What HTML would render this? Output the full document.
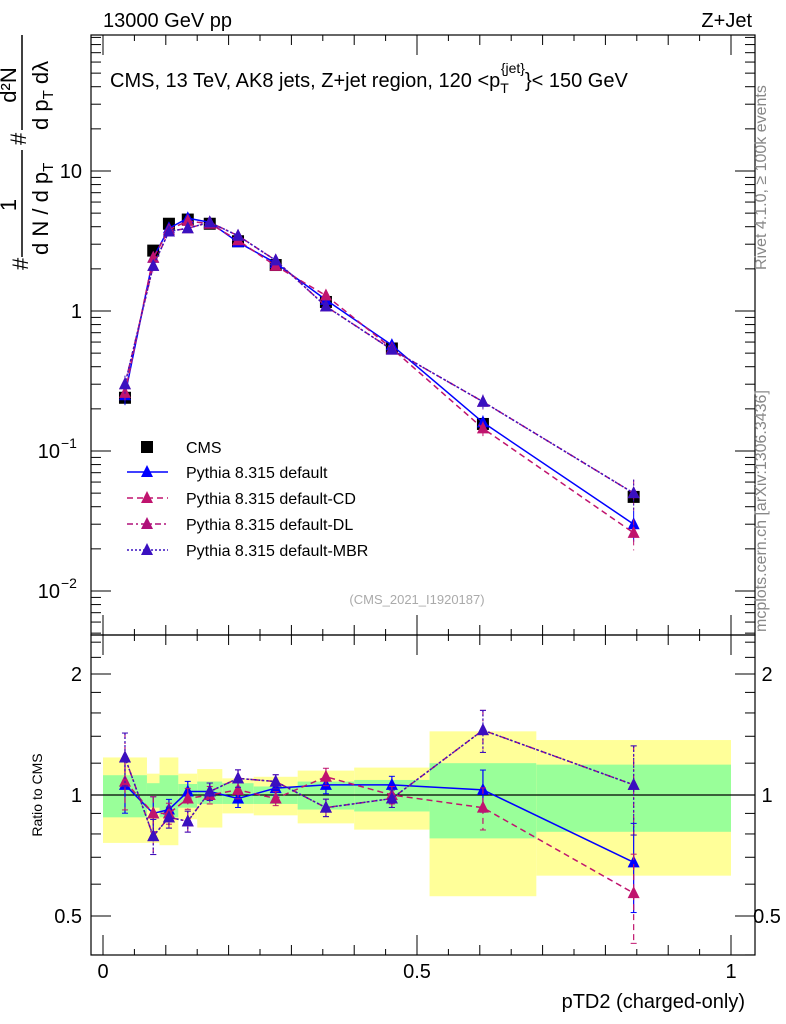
<!DOCTYPE html>
<html><head><meta charset="utf-8"><style>
body{margin:0;background:#fff}
svg{display:block;font-family:"Liberation Sans",sans-serif}
</style></head><body>
<svg id="c" width="786" height="1024" viewBox="0 0 786 1024">
<g id="bands"></g>
<g id="axes"></g>
<g id="series"></g>
<text x="103" y="27" font-size="20">13000 GeV pp</text>
<text x="752" y="27" font-size="20" text-anchor="end">Z+Jet</text>
<text x="110" y="87" font-size="20">CMS, 13 TeV, AK8 jets, Z+jet region, 120 &lt;p<tspan font-size="14" dy="6">T</tspan><tspan font-size="14" dy="-20" dx="-8">{jet}</tspan><tspan dy="14">}&lt; 150 GeV</tspan></text>
<text x="417" y="604" font-size="13" fill="#aaa" text-anchor="middle">(CMS_2021_I1920187)</text>
<text transform="translate(766,270) rotate(-90)" font-size="16" fill="#888">Rivet 4.1.0, ≥ 100k events</text>
<text transform="translate(766,632) rotate(-90)" font-size="16" fill="#888">mcplots.cern.ch [arXiv:1306.3436]</text>
<text x="745" y="1008" font-size="20" text-anchor="end">pTD2 (charged-only)</text>
<text transform="translate(42,795) rotate(-90)" font-size="14" text-anchor="middle">Ratio to CMS</text>
<g transform="rotate(-90)" font-size="22">
<text x="-270" y="28">#</text>
<text x="-205" y="16" text-anchor="middle">1</text>
<line x1="-257" y1="22" x2="-150" y2="22" stroke="#000" stroke-width="1.5"/>
<text x="-255" y="48">d N / d p<tspan font-size="15" dy="5">T</tspan></text>
<text x="-145" y="28" dy="-2">#</text>
<text x="-85" y="16" text-anchor="middle">d²N</text>
<line x1="-130" y1="22" x2="-35" y2="22" stroke="#000" stroke-width="1.5"/>
<text x="-130" y="48">d p<tspan font-size="15" dy="5">T</tspan><tspan dy="-5"> dλ</tspan></text>
</g>
<g id="legend"></g>
</svg>
<script>
const centers=[0.035,0.08,0.105,0.135,0.17,0.215,0.275,0.355,0.46,0.605,0.845];
const binEdges=[0,0.07,0.09,0.12,0.15,0.19,0.24,0.31,0.40,0.52,0.69,1.0];
const cmsVals=[0.24,2.7,4.2,4.5,4.2,3.15,2.13,1.16,0.54,0.156,0.047];
const defVals=[0.25,2.4,3.9,4.6,4.3,3.1,2.2,1.2,0.57,0.16,0.030];
const cdVals=[0.26,2.4,3.8,4.4,4.2,3.2,2.1,1.29,0.54,0.145,0.026];
const dlVals=[0.30,2.1,3.7,3.9,4.3,3.45,2.3,1.08,0.53,0.225,0.050];
const mbrVals=[0.30,2.1,3.7,3.9,4.3,3.45,2.3,1.08,0.53,0.225,0.050];
const defRatio=[1.06,0.90,0.92,1.02,1.02,0.98,1.04,1.06,1.06,1.03,0.68];
const cdRatio=[1.08,0.90,0.90,0.98,1.00,1.03,0.98,1.11,1.00,0.93,0.57];
const dlRatio=[1.24,0.79,0.88,0.86,1.02,1.10,1.08,0.93,0.98,1.45,1.06];
const mbrRatio=[1.24,0.79,0.88,0.86,1.02,1.10,1.08,0.93,0.98,1.45,1.06];
const mcErr=[0.15,0.1,0.06,0.06,0.05,0.05,0.04,0.05,0.05,0.12,0.25];
const greenLo=[0.88,0.93,0.88,0.93,0.95,0.95,0.95,0.92,0.91,0.78,0.81];
const greenHi=[1.12,1.07,1.12,1.065,1.08,1.07,1.05,1.08,1.09,1.20,1.19];
const yellowLo=[0.76,0.76,0.75,0.87,0.83,0.90,0.89,0.85,0.82,0.56,0.63];
const yellowHi=[1.24,1.13,1.24,1.13,1.16,1.10,1.11,1.15,1.17,1.44,1.37];
const xTickLabels=["0","0.5","1"];

const NS="http://www.w3.org/2000/svg";
const L=91,R=755,T=35,MB=635,B=955;
const X=v=>103+v*628;
const Y=v=>311-140*Math.log10(v);
const YR=v=>795-121*Math.log2(v);
function el(tag,attrs,parent){const e=document.createElementNS(NS,tag);for(const k in attrs)e.setAttribute(k,attrs[k]);parent.appendChild(e);return e;}
const ax=document.getElementById('axes'),bd=document.getElementById('bands'),sr=document.getElementById('series'),lg=document.getElementById('legend');

for(let i=0;i<centers.length;i++){
 const x0=X(binEdges[i]),x1=X(binEdges[i+1]);
 const y=el('rect',{x:x0,y:YR(yellowHi[i]),width:x1-x0,height:YR(yellowLo[i])-YR(yellowHi[i]),fill:'#ffff99'},bd);
 
 
 const g=el('rect',{x:x0,y:YR(greenHi[i]),width:x1-x0,height:YR(greenLo[i])-YR(greenHi[i]),fill:'#99ff99'},bd);
 
 
}
const f1=el('rect',{x:L,y:T,width:R-L,height:MB-T,fill:'none',stroke:'#000','stroke-width':1.2},ax);


const f2=el('rect',{x:L,y:MB,width:R-L,height:B-MB,fill:'none',stroke:'#000','stroke-width':1.2},ax);


el('line',{x1:L,x2:R,y1:YR(1),y2:YR(1),stroke:'#000','stroke-width':1.2},ax);
for(let k=0;k<=20;k++){const v=k*0.05,x=X(v);const len=k%10==0?20:(k%2==0?10:6);
 [[T,1],[MB,-1],[MB,1],[B,-1]].forEach(([y0,d])=>el('line',{x1:x,x2:x,y1:y0,y2:y0+d*len,stroke:'#000'},ax));}
xTickLabels.forEach((t,i)=>{const tx=el('text',{x:X(i*0.5),y:978,'font-size':20,'text-anchor':'middle'},ax);tx.textContent=t;
 
 });
for(let e=-3;e<=1;e++)for(let m=1;m<=9;m++){const v=m*Math.pow(10,e),y=Y(v);if(y<T||y>MB)continue;
 const len=m==1?20:10;el('line',{x1:L,x2:L+len,y1:y,y2:y,stroke:'#000'},ax);el('line',{x1:R,x2:R-len,y1:y,y2:y,stroke:'#000'},ax);}
[[10,'10'],[1,'1']].forEach(([v,t])=>{const tx=el('text',{x:82,y:Y(v)+7,'font-size':20,'text-anchor':'end'},ax);tx.textContent=t;
 
 });
[[0.1,'−1'],[0.01,'−2']].forEach(([v,t])=>{const tx=el('text',{x:60,y:Y(v)+7,'font-size':20,'text-anchor':'end'},ax);tx.textContent='10';
 
 
 const s=el('text',{x:61,y:Y(v)-3,'font-size':14},ax);s.textContent=t;});
[0.4,0.5,0.6,0.7,0.8,0.9,1,1.2,1.4,1.6,1.8,2,2.2,2.4].forEach(v=>{const y=YR(v);const len=(v==0.5||v==1||v==2)?20:10;
 el('line',{x1:L,x2:L+len,y1:y,y2:y,stroke:'#000'},ax);el('line',{x1:R,x2:R-len,y1:y,y2:y,stroke:'#000'},ax);});
[[0.5,'0.5'],[1,'1'],[2,'2']].forEach(([v,t])=>{
 const a=el('text',{x:82,y:YR(v)+7,'font-size':20,'text-anchor':'end'},ax);a.textContent=t;
 
 
 const b=el('text',{x:767,y:YR(v)+7,'font-size':20,'text-anchor':'middle'},ax);b.textContent=t;
 
 });

function tri(x,y,c,p){return el('polygon',{points:`${x},${y-7} ${x-6},${y+5} ${x+6},${y+5}`,fill:c},p);}
const series=[
 {name:'Pythia 8.315 default',vals:defVals,ratio:defRatio,c:'#0000ff',dash:''},
 {name:'Pythia 8.315 default-CD',vals:cdVals,ratio:cdRatio,c:'#c0146e',dash:'6,4'},
 {name:'Pythia 8.315 default-DL',vals:dlVals,ratio:dlRatio,c:'#b0107a',dash:'6,3,2,3'},
 {name:'Pythia 8.315 default-MBR',vals:mbrVals,ratio:mbrRatio,c:'#3a10c0',dash:'2,2'}];
cmsVals.forEach((v,i)=>{const r=el('rect',{x:X(centers[i])-6,y:Y(v)-6,width:12,height:12,fill:'#000'},sr);
 
 });
series.forEach((s,si)=>{
 const g=el('g',{},sr);
 
 
 const p1=centers.map((c,i)=>X(c)+','+Y(s.vals[i])).join(' ');
 el('polyline',{points:p1,fill:'none',stroke:s.c,'stroke-width':1.5,'stroke-dasharray':s.dash},g);
 const p2=centers.map((c,i)=>X(c)+','+YR(s.ratio[i])).join(' ');
 el('polyline',{points:p2,fill:'none',stroke:s.c,'stroke-width':1.5,'stroke-dasharray':s.dash},g);
 centers.forEach((c,i)=>{const x=X(c);
  const e=mcErr[i];
  const ya=Y(s.vals[i]*(1+e)),yb=Y(s.vals[i]*(1-e));
  el('line',{x1:x,x2:x,y1:ya,y2:yb,stroke:s.c,'stroke-dasharray':s.dash},g);
  const ra=YR(s.ratio[i]*(1+e)),rb=YR(s.ratio[i]*(1-e));
  el('line',{x1:x,x2:x,y1:ra,y2:rb,stroke:s.c,'stroke-width':1.2,'stroke-dasharray':s.dash},g);
  el('line',{x1:x-3,x2:x+3,y1:ra,y2:ra,stroke:s.c},g);el('line',{x1:x-3,x2:x+3,y1:rb,y2:rb,stroke:s.c},g);
  const m1=tri(x,Y(s.vals[i]),s.c,g);
  
  
  const m2=tri(x,YR(s.ratio[i]),s.c,g);
  
  
 });
});
const ly=[447,472,498,524,550];
const c0=el('rect',{x:141,y:ly[0]-6,width:12,height:12,fill:'#000'},lg);


const t0=el('text',{x:186,y:ly[0]+6,'font-size':16},lg);t0.textContent='CMS';


series.forEach((s,i)=>{const y=ly[i+1];
 el('line',{x1:127,x2:168,y1:y,y2:y,stroke:s.c,'stroke-width':1.5,'stroke-dasharray':s.dash},lg);
 tri(147,y,s.c,lg);
 const t=el('text',{x:186,y:y+6,'font-size':16},lg);t.textContent=s.name;
 
 });
</script>
</body></html>
